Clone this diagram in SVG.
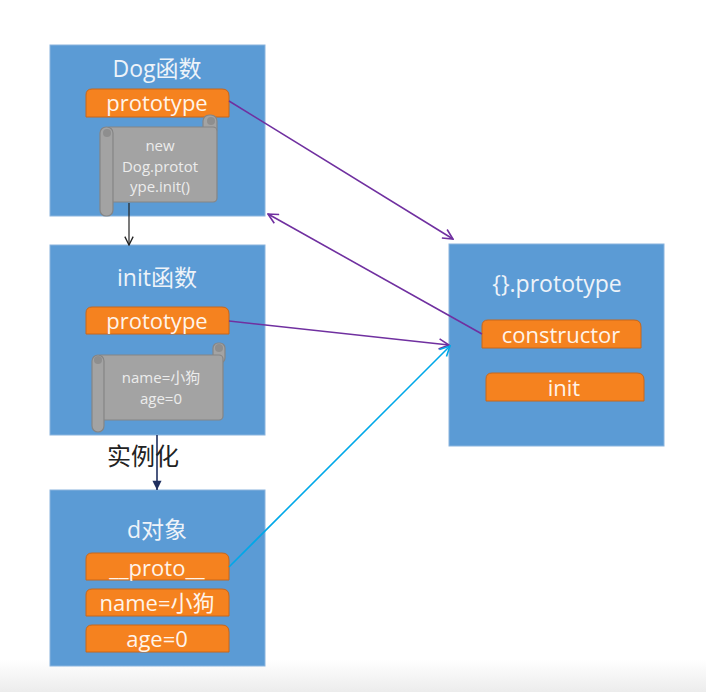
<svg xmlns="http://www.w3.org/2000/svg" width="706" height="692" viewBox="0 0 706 692">
<defs>
<style>
.box{fill:#5b9bd5;stroke:#8ab4de;stroke-width:1}
.pill{fill:#f5821f;stroke:#c8661a;stroke-width:1}
.scroll{fill:#a3a3a3;stroke:#858585;stroke-width:1.2}
.t{font-family:"Open Sans","Noto Sans","Noto Sans CJK SC",sans-serif;fill:#eef3f9;text-anchor:middle}
.title{font-size:23px}
.pt{font-size:22px;fill:#fff4ea}
.st{font-size:15px;fill:#ececec}
.lbl{font-family:"Noto Sans CJK SC","Noto Sans",sans-serif;font-size:24px;fill:#222}
</style>
<marker id="ap" viewBox="0 0 12 12" refX="11" refY="6" markerWidth="12" markerHeight="12" markerUnits="userSpaceOnUse" orient="auto"><path d="M1,1 L11,6 L1,11" fill="none" stroke="#7030a0" stroke-width="1.6"/></marker>
<marker id="ac" viewBox="0 0 12 12" refX="11" refY="6" markerWidth="12" markerHeight="12" markerUnits="userSpaceOnUse" orient="auto"><path d="M1,1 L11,6 L1,11" fill="none" stroke="#00a8e8" stroke-width="1.6"/></marker>
<marker id="ak" viewBox="0 0 12 12" refX="11" refY="6" markerWidth="10" markerHeight="10" markerUnits="userSpaceOnUse" orient="auto"><path d="M1,1 L11,6 L1,11" fill="none" stroke="#222" stroke-width="1.6"/></marker>
<marker id="an" viewBox="0 0 12 12" refX="11" refY="6" markerWidth="11" markerHeight="11" markerUnits="userSpaceOnUse" orient="auto"><path d="M1,1 L11,6 L1,11 Z" fill="#1f2f5f"/></marker>
<linearGradient id="bg" x1="0" y1="0" x2="0" y2="1"><stop offset="0" stop-color="#ffffff"/><stop offset="1" stop-color="#ececec"/></linearGradient>
</defs>
<rect width="706" height="692" fill="#ffffff"/>
<rect x="0" y="660" width="706" height="32" fill="url(#bg)"/>

<g id="dog">
<rect class="box" x="50" y="45" width="215" height="171"/>
<text class="t title" x="157" y="77">Dog函数</text>
<path class="pill" d="M86,117 V95 Q86,89 92,89 H222 Q229,89 229,96 V117 Z"/>
<text class="t pt" x="157" y="111">prototype</text>
<g>
<rect class="scroll" x="203" y="115" width="14" height="20" rx="6"/>
<rect class="scroll" x="106" y="127" width="111" height="75" rx="4"/>
<rect class="scroll" x="100" y="127" width="13" height="89" rx="6"/>
<circle cx="107" cy="133" r="4" fill="#8e8e8e"/>
<circle cx="211" cy="121" r="4" fill="#8e8e8e"/>
</g>
<text class="t st" x="160" y="151">new</text>
<text class="t st" x="160" y="172">Dog.protot</text>
<text class="t st" x="160" y="192">ype.init()</text>
</g>

<g id="init">
<rect class="box" x="50" y="245" width="215" height="190"/>
<text class="t title" x="157" y="286">init函数</text>
<path class="pill" d="M86,334 V313 Q86,307 92,307 H222 Q229,307 229,314 V334 Z"/>
<text class="t pt" x="157" y="329">prototype</text>
<g>
<rect class="scroll" x="213" y="343" width="12" height="20" rx="5"/>
<rect class="scroll" x="97" y="355" width="126" height="65" rx="4"/>
<rect class="scroll" x="92" y="355" width="12" height="77" rx="6"/>
<circle cx="98" cy="360" r="4" fill="#8e8e8e"/>
<circle cx="219" cy="348" r="4" fill="#8e8e8e"/>
</g>
<text class="t st" x="161" y="383">name=小狗</text>
<text class="t st" x="161" y="404">age=0</text>
</g>

<g id="d">
<rect class="box" x="50" y="490" width="215" height="176"/>
<text class="t title" x="157" y="538">d对象</text>
<path class="pill" d="M86,580 V559 Q86,553 92,553 H222 Q229,553 229,560 V580 Z"/>
<text class="t pt" x="157" y="576">__proto__</text>
<path class="pill" d="M86,616 V595 Q86,589 92,589 H222 Q229,589 229,596 V616 Z"/>
<text class="t pt" x="157" y="611">name=小狗</text>
<path class="pill" d="M86,652 V631 Q86,625 92,625 H222 Q229,625 229,632 V652 Z"/>
<text class="t pt" x="157" y="647">age=0</text>
</g>

<g id="objproto">
<rect class="box" x="449" y="244" width="215" height="202"/>
<text class="t title" x="557" y="292">{}.prototype</text>
<path class="pill" d="M482,348 V326 Q482,320 488,320 H634 Q641,320 641,327 V348 Z"/>
<text class="t pt" x="561" y="343">constructor</text>
<path class="pill" d="M486,401 V379 Q486,373 492,373 H637 Q644,373 644,380 V401 Z"/>
<text class="t pt" x="564" y="396">init</text>
</g>

<g id="connectors" fill="none">
<line x1="229" y1="101" x2="453" y2="239" stroke="#7030a0" stroke-width="1.6" marker-end="url(#ap)"/>
<line x1="482" y1="334" x2="268" y2="214" stroke="#7030a0" stroke-width="1.6" marker-end="url(#ap)"/>
<line x1="229" y1="321" x2="449" y2="345" stroke="#7030a0" stroke-width="1.6" marker-end="url(#ap)"/>
<line x1="229" y1="567" x2="450" y2="346" stroke="#00a8e8" stroke-width="1.6" marker-end="url(#ac)"/>
<line x1="129" y1="203" x2="129" y2="245" stroke="#222" stroke-width="1.2" marker-end="url(#ak)"/>
<line x1="157" y1="435" x2="157" y2="490" stroke="#1f2f5f" stroke-width="1.6" marker-end="url(#an)"/>
<text class="lbl" x="107" y="465">实例化</text>
</g>
</svg>
